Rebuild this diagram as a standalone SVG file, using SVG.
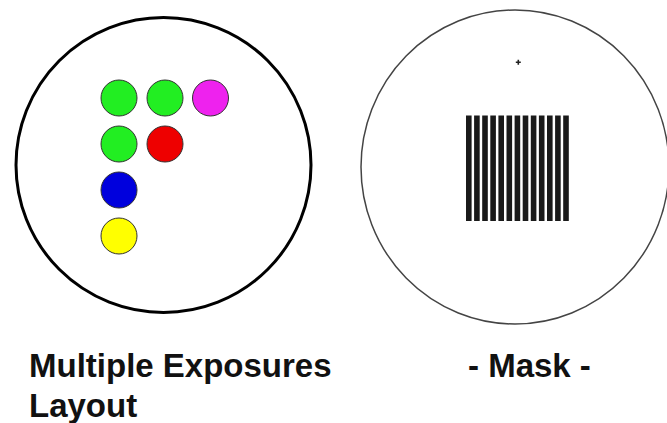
<svg xmlns="http://www.w3.org/2000/svg" width="667" height="423" viewBox="0 0 667 423">
<style>
.dot{stroke:#333;stroke-width:1}
.bar{fill:#1a1a1a}
.lbl{font-family:"Liberation Sans",Arial,sans-serif;font-weight:bold;font-size:33px;fill:#111}
</style>
<rect width="667" height="423" fill="#fff"/>
<g id="layout">
<circle cx="163.5" cy="165" r="147.5" fill="none" stroke="#000" stroke-width="3"/>
<circle class="dot" cx="119" cy="98" r="18" fill="#22ee22"/>
<circle class="dot" cx="165" cy="98" r="18" fill="#22ee22"/>
<circle class="dot" cx="210.5" cy="98" r="18" fill="#ee22ee"/>
<circle class="dot" cx="119" cy="144" r="18" fill="#22ee22"/>
<circle class="dot" cx="165" cy="144" r="18" fill="#ee0000"/>
<circle class="dot" cx="119" cy="190" r="18" fill="#0000dd"/>
<circle class="dot" cx="119" cy="236" r="18" fill="#ffff00"/>
</g>
<g id="mask">
<ellipse cx="515" cy="167" rx="154" ry="157" fill="none" stroke="#444" stroke-width="1.5"/>
<path d="M515.8 62.3H520.8M518.3 59.8V64.8" stroke="#222" stroke-width="1.6"/>
<g class="bar">
<rect x="466" y="115.5" width="5.6" height="105.5"/>
<rect x="474.1" y="115.5" width="5.6" height="105.5"/>
<rect x="482.2" y="115.5" width="5.6" height="105.5"/>
<rect x="490.3" y="115.5" width="5.6" height="105.5"/>
<rect x="498.4" y="115.5" width="5.6" height="105.5"/>
<rect x="506.5" y="115.5" width="5.6" height="105.5"/>
<rect x="514.6" y="115.5" width="5.6" height="105.5"/>
<rect x="522.7" y="115.5" width="5.6" height="105.5"/>
<rect x="530.8" y="115.5" width="5.6" height="105.5"/>
<rect x="538.9" y="115.5" width="5.6" height="105.5"/>
<rect x="547" y="115.5" width="5.6" height="105.5"/>
<rect x="555.1" y="115.5" width="5.6" height="105.5"/>
<rect x="563.2" y="115.5" width="5.6" height="105.5"/>
</g>
</g>
<g id="labels">
<text class="lbl" x="29" y="377">Multiple Exposures</text>
<text class="lbl" x="29" y="417">Layout</text>
<text class="lbl" x="468" y="377">- Mask -</text>
</g>
</svg>
